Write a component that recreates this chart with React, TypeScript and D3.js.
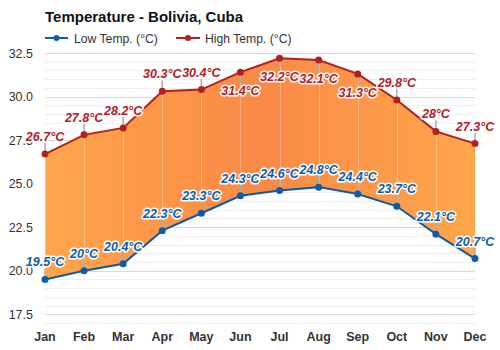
import React from "react";
import * as d3 from "d3";

const months = ["Jan", "Feb", "Mar", "Apr", "May", "Jun", "Jul", "Aug", "Sep", "Oct", "Nov", "Dec"];
const highTemps = [26.7, 27.8, 28.2, 30.3, 30.4, 31.4, 32.2, 32.1, 31.3, 29.8, 28, 27.3];
const lowTemps = [19.5, 20, 20.4, 22.3, 23.3, 24.3, 24.6, 24.8, 24.4, 23.7, 22.1, 20.7];
// high labels drawn under the line for these months
const highBelow = ["Jun", "Jul", "Aug", "Sep"];
const yTicks = [17.5, 20, 22.5, 25, 27.5, 30, 32.5];

const HIGH = "#b3201f";
const LOW = "#0f5ba6";
const FONT = "Arial, 'Liberation Sans', sans-serif";

function fmt(v: number) {
  return `${v}°C`;
}

export default function App() {
  const width = 500;
  const height = 350;
  const left = 45;
  const right = 475;

  const x = d3.scalePoint<string>().domain(months).range([left, right]);
  const y = d3.scaleLinear().domain([17, 32.5]).range([323, 53]);

  const minor = d3.range(17, 32.51, 0.5);

  const rows = months.map((m, i) => ({ m, hi: highTemps[i], lo: lowTemps[i] }));

  const area = d3
    .area<(typeof rows)[number]>()
    .x((d) => x(d.m)!)
    .y0((d) => y(d.lo))
    .y1((d) => y(d.hi));
  const hiLine = d3.line<(typeof rows)[number]>().x((d) => x(d.m)!).y((d) => y(d.hi));
  const loLine = d3.line<(typeof rows)[number]>().x((d) => x(d.m)!).y((d) => y(d.lo));

  const labelStyle = {
    fontFamily: FONT,
    fontSize: 12.5,
    fontWeight: "bold" as const,
    fontStyle: "italic" as const,
    paintOrder: "stroke" as const,
    stroke: "#fff",
    strokeWidth: 3,
    strokeLinejoin: "round" as const,
  };

  return (
    <svg width={width} height={height} style={{ position: "absolute", left: 0, top: 0, background: "#fff" }}>
      <defs>
        <linearGradient id="fillGrad" x1="0" x2="1" y1="0" y2="0">
          <stop offset="0%" stopColor="#ffa64b" />
          <stop offset="50%" stopColor="#f98947" />
          <stop offset="100%" stopColor="#ffa64b" />
        </linearGradient>
      </defs>

      {/* Title */}
      <text x={45} y={22} fontFamily={FONT} fontSize={15} fontWeight="bold" fill="#111">
        Temperature - Bolivia, Cuba
      </text>

      {/* Legend */}
      <g transform="translate(45,38)">
        <line x1={0} x2={23} y1={0} y2={0} stroke={LOW} strokeWidth={2} />
        <circle cx={11.5} cy={0} r={3} fill={LOW} />
        <text x={29} y={4.5} fontFamily={FONT} fontSize={12.2} fill="#333">Low Temp. (°C)</text>
        <line x1={131} x2={155} y1={0} y2={0} stroke={HIGH} strokeWidth={2} />
        <circle cx={143} cy={0} r={3} fill={HIGH} />
        <text x={160} y={4.5} fontFamily={FONT} fontSize={12.2} fill="#333">High Temp. (°C)</text>
      </g>

      {/* Grid */}
      {minor.map((v) => {
        const major = Math.abs((v / 2.5) - Math.round(v / 2.5)) < 1e-6;
        return (
          <line
            key={v}
            x1={left}
            x2={right}
            y1={Math.round(y(v)) + 0.5}
            y2={Math.round(y(v)) + 0.5}
            stroke={major ? "#d9d9d9" : "#ededed"}
            strokeWidth={1}
          />
        );
      })}
      {yTicks.map((t) => (
        <text key={t} x={33} y={y(t) + 4.5} textAnchor="end" fontFamily={FONT} fontSize={12.5} fill="#333">
          {t.toFixed(1)}
        </text>
      ))}

      {/* Range area */}
      <path d={area(rows)!} fill="url(#fillGrad)" />
      {rows.map((d) => (
        <line
          key={d.m}
          x1={Math.round(x(d.m)!) + 0.5}
          x2={Math.round(x(d.m)!) + 0.5}
          y1={y(d.hi)}
          y2={y(d.lo)}
          stroke="#ffffff"
          strokeOpacity={0.3}
        />
      ))}

      {/* Label stems */}
      {rows.map((d) => {
        const below = highBelow.includes(d.m);
        const px = x(d.m)!;
        return (
          <g key={d.m} stroke="#aaa" strokeWidth={1.5}>
            <line x1={px} x2={px} y1={y(d.hi) + (below ? 3 : -3)} y2={y(d.hi) + (below ? 11 : -11)} />
            <line x1={px} x2={px} y1={y(d.lo) - 3} y2={y(d.lo) - 11} />
          </g>
        );
      })}

      {/* Lines */}
      <path d={hiLine(rows)!} fill="none" stroke={HIGH} strokeWidth={2} />
      <path d={loLine(rows)!} fill="none" stroke={LOW} strokeWidth={2} />
      {rows.map((d) => (
        <g key={d.m}>
          <circle cx={x(d.m)!} cy={y(d.hi)} r={3.5} fill={HIGH} />
          <circle cx={x(d.m)!} cy={y(d.lo)} r={3.5} fill={LOW} />
        </g>
      ))}

      {/* Value labels */}
      {rows.map((d) => {
        const below = highBelow.includes(d.m);
        const px = x(d.m)!;
        return (
          <g key={d.m}>
            <text
              x={px}
              y={below ? y(d.hi) + 23 : y(d.hi) - 13}
              textAnchor="middle"
              fill={HIGH}
              {...labelStyle}
            >
              {fmt(d.hi)}
            </text>
            <text x={px} y={y(d.lo) - 13} textAnchor="middle" fill={LOW} {...labelStyle}>
              {fmt(d.lo)}
            </text>
          </g>
        );
      })}

      {/* X axis labels */}
      {months.map((m) => (
        <text key={m} x={x(m)!} y={341} textAnchor="middle" fontFamily={FONT} fontSize={12.5} fontWeight="bold" fill="#333">
          {m}
        </text>
      ))}
    </svg>
  );
}
